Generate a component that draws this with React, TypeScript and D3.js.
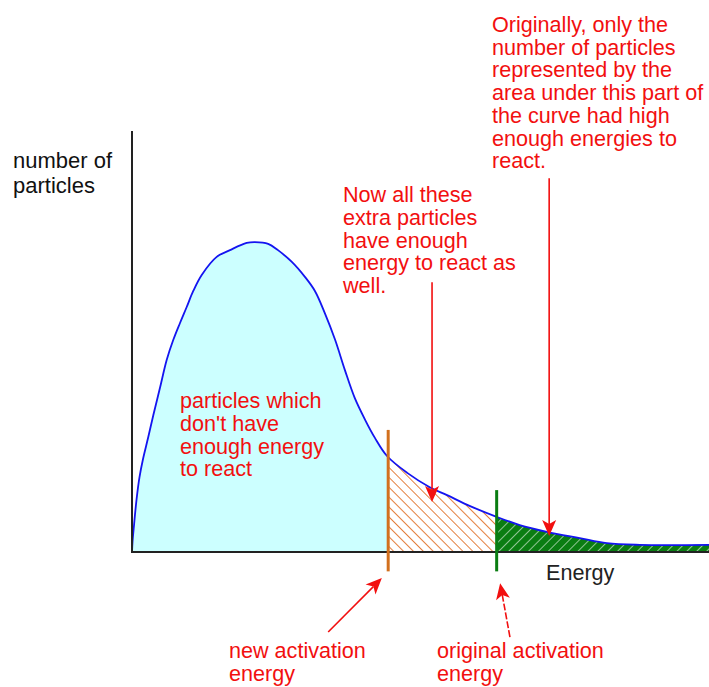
import * as d3 from "d3";

// Maxwell-Boltzmann style distribution
const energy = [0, 0.09, 0.35, 0.78, 1.30, 1.91, 2.82, 3.69, 4.85, 6.01, 7.16, 8.32, 9.48, 10.62, 12.08, 14.68, 16.98, 19.88, 21.3, 23.6, 25.3, 27.7, 30.0, 31.7, 33.4, 35.2, 36.9, 38.6, 40.4, 42.1, 44.2, 47.7, 51.6, 54.6, 58.6, 63.3, 67.2, 71.9, 77.6, 82.3, 88.0, 100];
const counts = [0, 2.4, 6.4, 12.4, 17.8, 22.1, 27.3, 32.5, 39.0, 45.6, 50.4, 54.4, 58.2, 62.0, 65.8, 70.1, 71.7, 73.4, 73.6, 73.2, 71.7, 68.9, 65.3, 62.0, 56.8, 50.4, 43.2, 36.6, 31.4, 27.1, 22.8, 18.8, 15.4, 13.5, 10.9, 8.3, 6.4, 4.8, 3.3, 2.1, 1.7, 1.7];

const newActivation = 44.4;
const originalActivation = 63.2;
const markerTops = [29, 14.7];
const markerBottom = -4.6;

const yLabelLines = ["number of", "particles"];
const xLabel = "Energy";
const lowText = ["particles which", "don't have", "enough energy", "to react"];
const extraText = ["Now all these", "extra particles", "have enough", "energy to react as", "well."];
const origText = ["Originally, only the", "number of particles", "represented by the", "area under this part of", "the curve had high", "enough energies to", "react."];
const newEaText = ["new activation", "energy"];
const origEaText = ["original activation", "energy"];

// arrows in data units: from -> tip
const arrows = [
  { from: [52.0, 64.1], to: [52.0, 11.9], dashed: false },
  { from: [72.3, 88.8], to: [72.3, 3.8], dashed: false },
  { from: [34.0, -19.0], to: [43.3, -6.2], dashed: false },
  { from: [65.5, -20.2], to: [63.8, -7.4], dashed: true },
];

const W = 709;
const H = 687;
const RED = "#f20f0f";
const FONT = "'Liberation Sans', Arial, Helvetica, sans-serif";

const x = d3.scaleLinear().domain([0, 100]).range([132, 709]);
const y = d3.scaleLinear().domain([0, 100]).range([552, 131]);

const pts = energy.map((e, i) => ({ e, c: counts[i] }));

const curve = d3.curveCatmullRom.alpha(0.5);
const line = d3.line<any>().x(d => x(d.e)).y(d => y(d.c)).curve(curve);
const area = d3.area<any>().x(d => x(d.e)).y0(y(0)).y1(d => y(d.c)).curve(curve);

const Arrow = ({ a }) => {
  const x1 = x(a.from[0]), y1 = y(a.from[1]);
  const x2 = x(a.to[0]), y2 = y(a.to[1]);
  const ang = Math.atan2(y2 - y1, x2 - x1);
  const len = 16, half = 7, notch = 12;
  const ux = Math.cos(ang), uy = Math.sin(ang);
  const px = -uy, py = ux;
  const bx = x2 - ux * len, by = y2 - uy * len;
  const nx = x2 - ux * notch, ny = y2 - uy * notch;
  const head = [
    [x2, y2],
    [bx + px * half, by + py * half],
    [nx, ny],
    [bx - px * half, by - py * half],
  ].map(p => p.join(",")).join(" ");
  return (
    <g>
      <line x1={x1} y1={y1} x2={nx} y2={ny} stroke={RED} strokeWidth={1.6}
        strokeDasharray={a.dashed ? "7,2" : undefined} />
      <polygon points={head} fill={RED} />
    </g>
  );
};

const TextBlock = ({ lines, x0, y0, dy, color = RED, size = 21.6 }) => (
  <text x={x0} y={y0} fill={color} fontSize={size} fontFamily={FONT}>
    {lines.map((t, i) => (
      <tspan key={i} x={x0} dy={i === 0 ? 0 : dy}>{t}</tspan>
    ))}
  </text>
);

export default function App() {
  return (
    <svg width={W} height={H} viewBox={`0 0 ${W} ${H}`}
      style={{ position: "absolute", left: 0, top: 0, background: "#fff" }}>
      <defs>
        <pattern id="orangeHatch" patternUnits="userSpaceOnUse" width={7} height={7}
          patternTransform="rotate(-45)">
          <rect width={7} height={7} fill="#fff" />
          <line x1={0} y1={0} x2={0} y2={7} stroke="#e0681a" strokeWidth={1.7} />
        </pattern>
        <pattern id="greenHatch" patternUnits="userSpaceOnUse" width={7} height={7}
          patternTransform="rotate(45)">
          <rect width={7} height={7} fill="#0a7d12" />
          <line x1={0} y1={0} x2={0} y2={7} stroke="#fff" strokeWidth={1.1} />
        </pattern>
        <clipPath id="clipLow">
          <rect x={x(0)} y={0} width={x(newActivation) - x(0)} height={H} />
        </clipPath>
        <clipPath id="clipMid">
          <rect x={x(newActivation)} y={0} width={x(originalActivation) - x(newActivation)} height={H} />
        </clipPath>
        <clipPath id="clipHigh">
          <rect x={x(originalActivation)} y={0} width={x(100) - x(originalActivation)} height={H} />
        </clipPath>
      </defs>

      <path d={area(pts)} fill="#ccffff" clipPath="url(#clipLow)" />
      <path d={area(pts)} fill="url(#orangeHatch)" clipPath="url(#clipMid)" />
      <path d={area(pts)} fill="url(#greenHatch)" clipPath="url(#clipHigh)" />
      <path d={line(pts)} fill="none" stroke="#1414f0" strokeWidth={1.8} />

      {/* axes */}
      <line x1={x(0)} x2={x(0)} y1={y(0) + 1} y2={y(100)} stroke="#222" strokeWidth={2} />
      <line x1={x(0)} x2={x(100)} y1={y(0)} y2={y(0)} stroke="#222" strokeWidth={2} />

      {/* activation energy markers */}
      <line x1={x(newActivation)} x2={x(newActivation)} y1={y(markerTops[0])} y2={y(markerBottom)}
        stroke="#d2701e" strokeWidth={3} />
      <line x1={x(originalActivation)} x2={x(originalActivation)} y1={y(markerTops[1])} y2={y(markerBottom)}
        stroke="#0a7d12" strokeWidth={3} />

      {arrows.map((a, i) => <Arrow key={i} a={a} />)}

      <TextBlock lines={yLabelLines} x0={13} y0={168} dy={25} color="#111" size={22} />
      <text x={546} y={580} fill="#222" fontSize={21.6} fontFamily={FONT}>{xLabel}</text>
      <TextBlock lines={lowText} x0={180} y0={408} dy={22.8} />
      <TextBlock lines={extraText} x0={343} y0={202} dy={22.8} />
      <TextBlock lines={origText} x0={492} y0={32} dy={22.7} />
      <TextBlock lines={newEaText} x0={229} y0={658} dy={22.8} />
      <TextBlock lines={origEaText} x0={437} y0={658} dy={22.8} />
    </svg>
  );
}
